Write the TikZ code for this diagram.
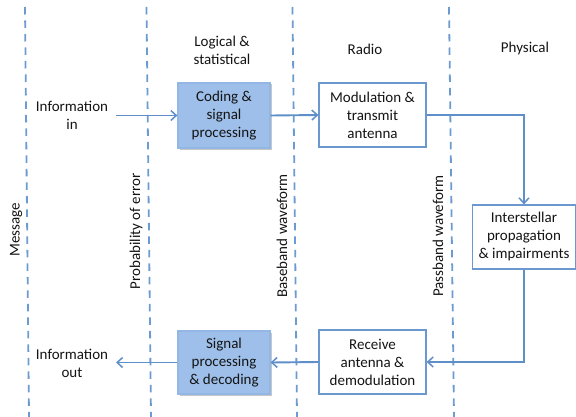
\documentclass[tikz,border=0pt]{standalone}
\usepackage{fontspec}
\setmainfont{Carlito}
\usetikzlibrary{arrows.meta}
\definecolor{dashblue}{HTML}{6C9BD2}
\definecolor{lineblue}{HTML}{5F8FC9}
\definecolor{boxfill}{HTML}{9DBFE9}
\definecolor{boxedge}{HTML}{6A98CF}
\tikzset{
  txt/.style={font=\fontsize{15}{18}\selectfont, align=center, text=black!92},
  box/.style={txt, draw=boxedge, line width=1.2pt, fill=white, inner sep=0pt},
  fbox/.style={box, fill=boxfill, draw=boxfill!80!boxedge},
  sep/.style={dashblue, line width=1.8pt, dash pattern=on 7.5pt off 6pt},
  conn/.style={lineblue, line width=1.9pt, -{Straight Barb[length=5.5pt,width=10pt,line width=1.5pt]}},
  vlab/.style={txt, rotate=90}
}
\begin{document}
\begin{tikzpicture}[x=1pt,y=-1pt]
\useasboundingbox (0,0) rectangle (576,417);
% separators
\draw[sep] (25,7) -- (29,417);
\draw[sep] (146.5,7) -- (151,417);
\draw[sep] (292.5,7) -- (297,417);
\draw[sep] (449,7) -- (454,417);
% titles
\node[txt] (tlog) at (222,50) {Logical \&\\statistical};
\node[txt] (trad) at (365,49) {Radio};
\node[txt] (tphy) at (525,49) {Physical};
% vertical labels
\node[vlab] (lmsg) at (16,230) {Message};
\node[vlab] (lerr) at (136,231.5) {Probability of error};
\node[vlab] (lbb) at (282,236) {Baseband waveform};
\node[vlab] (lpb) at (438,236) {Passband waveform};
% shadows
\fill[black!22] (179.5,84.5) rectangle (271.8,149.8);
\fill[black!22] (179.5,332.5) rectangle (271.8,395.8);
% boxes
\node[fbox, minimum width=92pt, minimum height=65pt] (code) at (224,115.5) {Coding \&\\signal\\processing};
\node[box, minimum width=107pt, minimum height=64pt] (mod) at (372.5,115) {Modulation \&\\transmit\\antenna};
\node[box, minimum width=103pt, minimum height=64pt] (inter) at (524,237) {Interstellar\\propagation\\\& impairments};
\node[box, minimum width=107pt, minimum height=64pt] (recv) at (372.5,362) {Receive\\antenna \&\\demodulation};
\node[fbox, minimum width=92pt, minimum height=63pt] (sig) at (224,362.5) {Signal\\processing\\\& decoding};
% info texts
\node[txt] (iin) at (72,115.5) {Information\\in};
\node[txt] (iout) at (72,363) {Information\\out};
\coordinate (cin) at (116,115.5);
\coordinate (cout) at (116,362.5);
% connectors
\draw[conn] (cin) -- (code.west);
\draw[conn] (code.east) -- (mod.west);
\draw[conn] (mod.east) -| (inter.north);
\draw[conn] (inter.south) |- (recv.east);
\draw[conn] (recv.west) -- (sig.east);
\draw[conn] (sig.west) -- (cout);
\end{tikzpicture}
\end{document}
